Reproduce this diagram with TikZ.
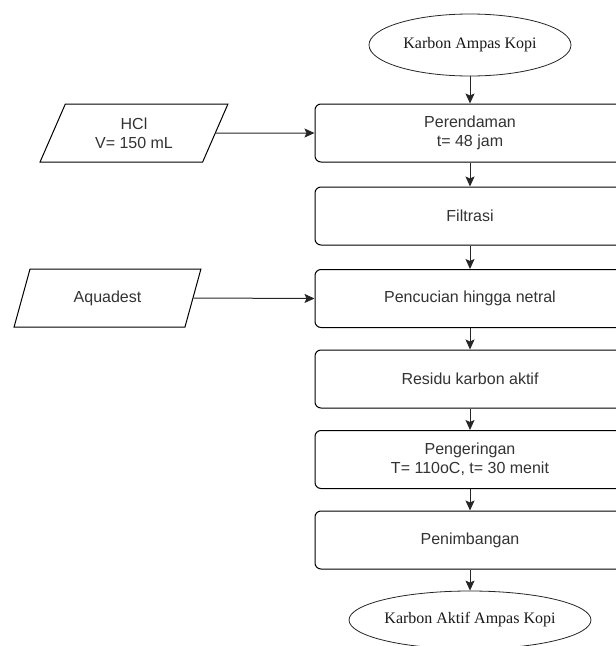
\documentclass[tikz,border=0pt]{standalone}
\usepackage{fontspec}
\setmainfont{Liberation Serif}
\setsansfont{Liberation Sans}
\usetikzlibrary{shapes.geometric, arrows.meta, positioning}

\begin{document}
\begin{tikzpicture}[x=1pt, y=-1pt,
    proses/.style={rectangle, rounded corners=6pt, draw=black, fill=white, line width=1pt, minimum width=310pt, minimum height=58pt, align=center, text=black!80, font=\sffamily\fontsize{16}{19}\selectfont},
    bahan/.style={trapezium, trapezium left angle=65, trapezium right angle=115, trapezium stretches=true, draw=black, fill=white, line width=1pt, minimum width=188pt, minimum height=58pt, inner sep=0pt, align=center, text=black!80, font=\sffamily\fontsize{16}{19}\selectfont},
    ujung/.style={ellipse, draw=black!85, fill=white, line width=0.8pt, minimum width=202pt, minimum height=62pt, inner sep=0pt, text=black!90, font=\rmfamily\fontsize{16}{19}\selectfont},
    panah/.style={-{Stealth[length=10pt, width=9pt, inset=2pt]}, line width=1pt, draw=black!85}]
    \useasboundingbox (0,0) rectangle (616,646);
    \clip (0,0) rectangle (616,646);

    % Start and end
    \node[ujung] (mulai) at (470,45) {Karbon Ampas Kopi};
    \node[ujung, minimum width=196pt, minimum height=58pt] (selesai) at (470,620) {Karbon Aktif Ampas Kopi};

    % Process steps
    \node[proses] (rendam) at (470,133) {Perendaman\\t= 48 jam};
    \node[proses] (filtrasi) at (470,216) {Filtrasi};
    \node[proses] (cuci) at (470,298.5) {Pencucian hingga netral};
    \node[proses] (residu) at (470,379) {Residu karbon aktif};
    \node[proses] (kering) at (470,459.5) {Pengeringan\\T= 110oC, t= 30 menit};
    \node[proses] (timbang) at (470,540) {Penimbangan};

    % Inputs
    \node[bahan] (hcl) at (134,133) {HCl\\V= 150 mL};
    \node[bahan] (aquadest) at (107.5,298) {Aquadest};

    % Flow
    \draw[panah] (mulai) -- (rendam);
    \draw[panah] (rendam) -- (filtrasi);
    \draw[panah] (filtrasi) -- (cuci);
    \draw[panah] (cuci) -- (residu);
    \draw[panah] (residu) -- (kering);
    \draw[panah] (kering) -- (timbang);
    \draw[panah] (timbang) -- (selesai);
    \draw[panah] (hcl.east) -- (rendam.west);
    \draw[panah] (aquadest.east) -- (cuci.west);
\end{tikzpicture}
\end{document}
